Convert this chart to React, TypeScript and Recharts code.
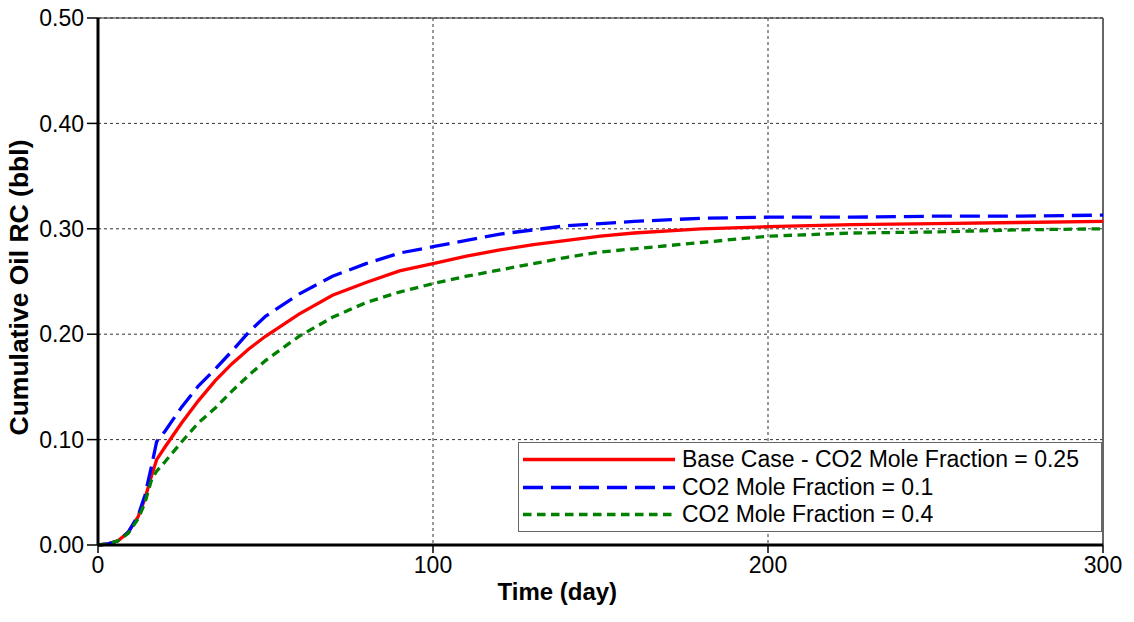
import React from "react";
import {
	CartesianGrid,
	Label,
	Legend,
	Line,
	LineChart,
	ReferenceLine,
	XAxis,
	YAxis,
} from "recharts";

// time axis (day), shared by all three runs
const days = [
	0, 3, 6, 9, 12, 14, 16, 17.5, 20, 25, 30, 35, 40, 45, 50, 60, 70, 80, 90, 100, 110, 120, 130,
	140, 150, 160, 180, 200, 225, 250, 275, 300,
];

// cumulative oil RC (bbl)
const baseCase = [
	0, 0.001, 0.004, 0.012, 0.027, 0.044, 0.066, 0.081, 0.093, 0.116, 0.137, 0.156, 0.172, 0.186,
	0.198, 0.219, 0.237, 0.249, 0.26, 0.267, 0.274, 0.28, 0.285, 0.289, 0.293, 0.296, 0.3, 0.302,
	0.304, 0.305, 0.306, 0.307,
];
const co2Low = [
	0, 0.001, 0.004, 0.012, 0.028, 0.047, 0.075, 0.098, 0.108, 0.131, 0.151, 0.167, 0.184, 0.202,
	0.217, 0.238, 0.255, 0.267, 0.277, 0.283, 0.289, 0.295, 0.299, 0.303, 0.305, 0.307, 0.31, 0.311,
	0.311, 0.312, 0.312, 0.313,
];
const co2High = [
	0, 0.001, 0.004, 0.011, 0.025, 0.04, 0.062, 0.07, 0.079, 0.098, 0.116, 0.13, 0.146, 0.161,
	0.175, 0.198, 0.216, 0.23, 0.24, 0.248, 0.255, 0.261, 0.267, 0.273, 0.278, 0.281, 0.287, 0.293,
	0.296, 0.297, 0.299, 0.3,
];

const xTicks = [0, 100, 200, 300];
const yTicks = [0, 0.1, 0.2, 0.3, 0.4, 0.5];

const series = [
	{ key: "base", name: "Base Case - CO2 Mole Fraction = 0.25", color: "#ff0000", dash: undefined, values: baseCase },
	{ key: "low", name: "CO2 Mole Fraction = 0.1", color: "#0000ff", dash: "20 8", values: co2Low },
	{ key: "high", name: "CO2 Mole Fraction = 0.4", color: "#008000", dash: "8.5 5.5", values: co2High },
];

const data = days.map((day, i) => {
	const row: Record<string, number> = { day };
	for (const s of series) row[s.key] = s.values[i];
	return row;
});

const FONT = "'Liberation Sans', Arial, Helvetica, sans-serif";

const renderLegend = (): React.ReactElement => (
	<div
		style={{
			boxSizing: "border-box",
			width: 584,
			height: 90,
			border: "1px solid #666",
			background: "#fff",
			paddingTop: 3,
			fontFamily: FONT,
			fontSize: 23,
			color: "#000",
		}}
	>
		{series.map((s) => (
			<div key={s.key} style={{ display: "flex", alignItems: "center", height: 27.5 }}>
				<svg width={152} height={27} style={{ marginLeft: 4, flex: "none" }}>
					<line
						x1={0}
						y1={13.5}
						x2={152}
						y2={13.5}
						stroke={s.color}
						strokeWidth={3.3}
						strokeDasharray={s.dash}
					/>
				</svg>
				<span style={{ marginLeft: 7, whiteSpace: "nowrap", lineHeight: "27.5px" }}>{s.name}</span>
			</div>
		))}
	</div>
);

const renderYTitle = (props: any): React.ReactElement => {
	const { viewBox } = props;
	const cy = viewBox.y + viewBox.height / 2 + 6;
	return (
		<text
			transform={`translate(28, ${cy}) rotate(-90)`}
			textAnchor="middle"
			fontFamily={FONT}
			fontWeight="bold"
			fontSize={26.5}
			fill="#000"
		>
			Cumulative Oil RC (bbl)
		</text>
	);
};

const renderXTitle = (props: any): React.ReactElement => {
	const { viewBox } = props;
	return (
		<text
			x={viewBox.x + viewBox.width * 0.457}
			y={600}
			textAnchor="middle"
			fontFamily={FONT}
			fontWeight="bold"
			fontSize={24}
			fill="#000"
		>
			Time (day)
		</text>
	);
};

export default function App(): React.ReactElement {
	const tickStyle = { fontFamily: FONT, fontSize: 23, fill: "#000" };
	return (
		<div style={{ position: "absolute", left: 0, top: 0, background: "#fff" }}>
			<LineChart
				width={1134}
				height={622}
				data={data}
				margin={{ top: 18, right: 31, bottom: 0, left: 0 }}
			>
				<CartesianGrid stroke="#333" strokeDasharray="3 3" strokeWidth={1} />
				<XAxis
					dataKey="day"
					type="number"
					domain={[0, 300]}
					ticks={xTicks}
					height={77}
					tick={tickStyle}
					tickSize={8}
					tickMargin={4}
					axisLine={{ stroke: "#000", strokeWidth: 3 }}
					tickLine={{ stroke: "#000", strokeWidth: 1.5 }}
				>
					<Label content={renderXTitle} />
				</XAxis>
				<YAxis
					type="number"
					domain={[0, 0.5]}
					ticks={yTicks}
					width={98}
					tick={tickStyle}
					tickSize={11}
					tickMargin={3}
					tickFormatter={(v: number) => v.toFixed(2)}
					axisLine={{ stroke: "#000", strokeWidth: 3 }}
					tickLine={{ stroke: "#000", strokeWidth: 1.5 }}
				>
					<Label content={renderYTitle} />
				</YAxis>
				<ReferenceLine y={0.5} stroke="#222" strokeWidth={1} />
				<ReferenceLine x={300} stroke="#666" strokeWidth={2} />
				{series.map((s) => (
					<Line
						key={s.key}
						name={s.name}
						dataKey={s.key}
						type="linear"
						stroke={s.color}
						strokeWidth={3.3}
						strokeDasharray={s.dash}
						dot={false}
						activeDot={false}
						isAnimationActive={false}
					/>
				))}
				<Legend
					layout="vertical"
					align="center"
					verticalAlign="middle"
					content={renderLegend}
					wrapperStyle={{ left: 518, top: 442, width: 584, height: 90 }}
				/>
			</LineChart>
		</div>
	);
}
